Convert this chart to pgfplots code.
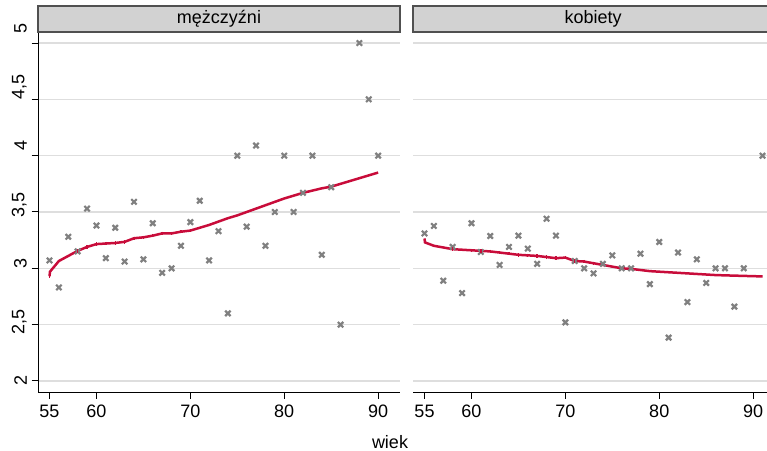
\documentclass[border=0pt]{standalone}
\usepackage{pgfplots}
\pgfplotsset{compat=1.18}
\usepackage{fontspec}
\setmainfont{Liberation Sans}
\definecolor{fitred}{RGB}{200,12,58}
\definecolor{ptgray}{RGB}{128,128,128}
\definecolor{stripfill}{RGB}{210,210,210}
\definecolor{stripedge}{RGB}{80,80,80}
\definecolor{gridc}{RGB}{222,222,222}
\tikzset{strip/.style={draw=stripedge, fill=stripfill, line width=1.3bp}}
\begin{document}
\begin{tikzpicture}
\useasboundingbox (0bp,0bp) rectangle (767bp,451bp);
\pgfplotsset{
  panel/.style={
    scale only axis, width=362bp, height=360bp,
    anchor=south west,
    ymin=1.902, ymax=5.098,
    ytick={2,2.5,3,3.5,4,4.5,5},
    xtick={55,60,70,80,90},
    axis lines*=left,
    axis line style={line width=1bp},
    tick align=outside, major tick length=6.5bp,
    tick style={line width=1bp, black},
    ymajorgrids, major grid style={gridc, line width=1.3bp},
    /pgf/number format/.cd, use comma, assume math mode=true, /pgfplots/.cd,
    tick label style={font=\fontsize{18bp}{20bp}\selectfont},
    yticklabel style={xshift=-4.5bp, yshift={(\tick-2)*4.86}, rotate=90, anchor=south, inner sep=0pt},
    xticklabel style={inner sep=0pt, yshift=-6.5bp},
    clip=false,
  },
  pts/.style={only marks, mark=x, mark size=3.8bp, ptgray, line width=2.2bp},
  fit/.style={fitred, line width=2.5bp, mark=|, mark size=1.7bp, mark options={line width=1.4bp}},
}
% ---------- men ----------
\begin{axis}[panel, name=men, at={(38bp,59bp)}, xmin=53.775, xmax=92.33]
\addplot[pts] coordinates {
(55,3.07)(56,2.83)(57,3.28)(58,3.15)(59,3.53)(60,3.38)(61,3.09)(62,3.36)
(63,3.06)(64,3.59)(65,3.08)(66,3.40)(67,2.96)(68,3.00)(69,3.20)(70,3.41)
(71,3.60)(72,3.07)(73,3.33)(74,2.60)(75,4.00)(76,3.37)(77,4.09)(78,3.20)
(79,3.50)(80,4.00)(81,3.50)(82,3.67)(83,4.00)(84,3.12)(85,3.72)(86,2.50)
(88,5.00)(89,4.50)(90,4.00)};
\addplot[fit, mark indices={1,4,5,6,7,8,9,10,11,12,13,14,15,16}] coordinates {
(55,2.93)(55.05,2.97)(56,3.065)(58,3.155)(59,3.19)(60,3.215)(61,3.22)(62,3.225)
(63,3.235)(64,3.267)(65,3.275)(66,3.29)(67,3.31)(68,3.31)(69,3.325)(70,3.335)
(71,3.36)(72,3.385)(73,3.415)(74,3.445)(75,3.47)(76,3.50)(77,3.53)(78,3.56)
(79,3.59)(80,3.62)(81,3.645)(82,3.67)(83,3.69)(84,3.71)(85,3.725)(86,3.75)
(88,3.80)(89,3.825)(90,3.85)};
\draw[strip] (rel axis cs:0,1) rectangle ([yshift=26bp]rel axis cs:1,1);
\node[font=\fontsize{18bp}{20bp}\selectfont] at ([yshift=13bp]rel axis cs:0.5,1) {mężczyźni};
\end{axis}
% ---------- women ----------
\begin{axis}[panel, name=women, at={(413bp,59bp)}, width=354bp, xmin=53.775, xmax=91.475,
  y axis line style={draw=none}, ytick style={draw=none}, yticklabels={}]
\addplot[pts] coordinates {
(55,3.31)(56,3.376)(57,2.89)(58,3.19)(59,2.78)(60,3.40)(61,3.145)(62,3.287)
(63,3.03)(64,3.19)(65,3.29)(66,3.175)(67,3.04)(68,3.44)(69,3.29)(70,2.52)
(71,3.065)(72,3.00)(73,2.955)(74,3.04)(75,3.115)(76,3.00)(77,3.00)(78,3.13)
(79,2.86)(80,3.234)(81,2.385)(82,3.14)(83,2.70)(84,3.08)(85,2.87)(86,3.00)
(87,3.00)(88,2.66)(89,3.00)(91,4.00)};
\addplot[fit, mark indices={4,5,6,7,8,9,10,11,12,13,14,15,16,17,18}] coordinates {
(55,3.265)(55.05,3.23)(56,3.20)(58,3.17)(60,3.16)(61,3.155)(62,3.15)(63,3.14)
(64,3.13)(65,3.12)(66,3.115)(67,3.11)(68,3.10)(69,3.09)(70,3.095)(71,3.065)
(72,3.06)(73,3.045)(74,3.03)(76,3.00)(77,2.995)(79,2.975)(80,2.97)(82,2.96)
(85,2.945)(86,2.94)(88,2.935)(91,2.928)};
\draw[strip] (rel axis cs:0,1) rectangle ([xshift=20bp,yshift=26bp]rel axis cs:1,1);
\node[font=\fontsize{18bp}{20bp}\selectfont] at ([yshift=13bp]axis cs:72.95,5.098) {kobiety};
\end{axis}
\node[font=\fontsize{18bp}{20bp}\selectfont, anchor=base, inner sep=0pt] at (390bp,3bp) {wiek};
\end{tikzpicture}
\end{document}
